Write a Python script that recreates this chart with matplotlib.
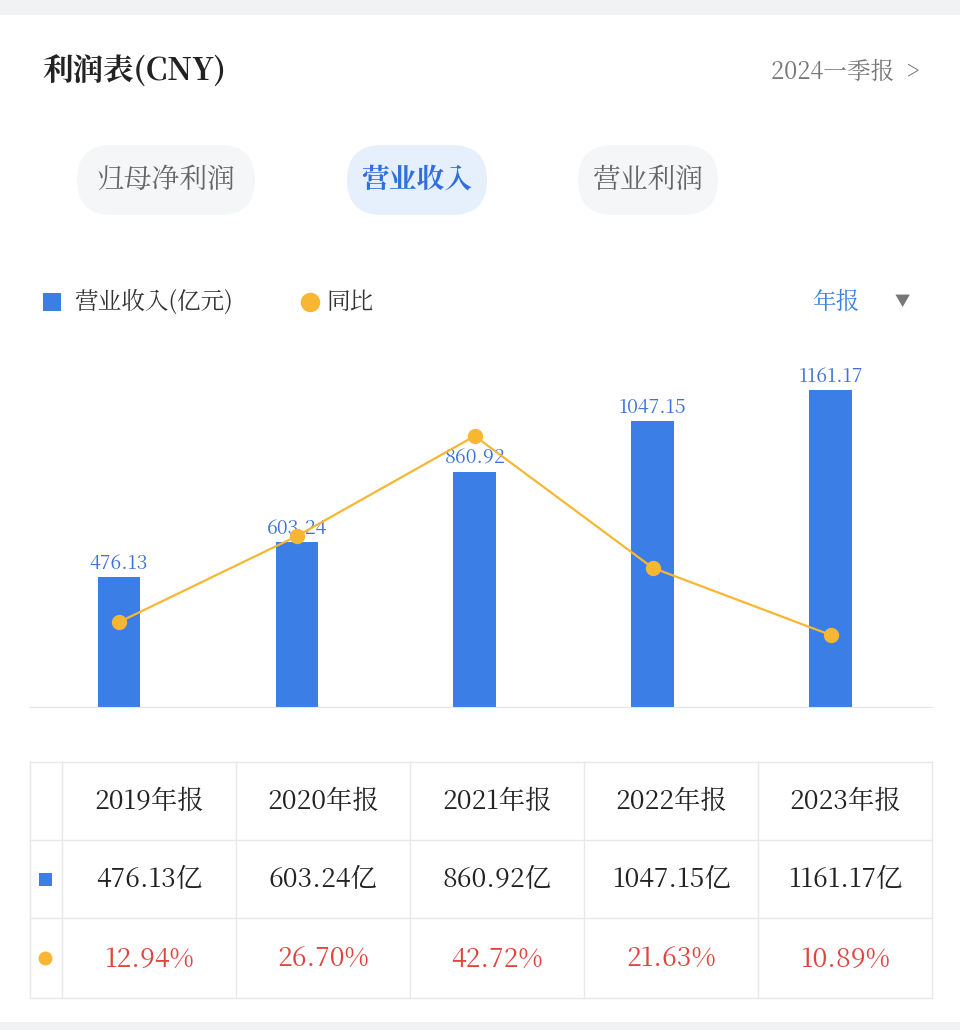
import matplotlib
matplotlib.use("Agg")
import matplotlib.pyplot as plt
from matplotlib import font_manager as fm
from matplotlib.patches import FancyBboxPatch, Rectangle

cjk = [f.name for f in fm.fontManager.ttflist if 'CJK' in f.name]
pref = [n for n in cjk if n.endswith('SC')] or cjk
plt.rcParams['font.family'] = ([pref[0]] if pref else []) + ['DejaVu Sans']

years = ["2019年报", "2020年报", "2021年报", "2022年报", "2023年报"]
revenue = [476.13, 603.24, 860.92, 1047.15, 1161.17]
yoy = [12.94, 26.70, 42.72, 21.63, 10.89]

W, H = 960, 1030
fig = plt.figure(figsize=(9.6, 10.3), dpi=100)
fig.patch.set_facecolor('white')

# overlay axes in pixel coordinates for the page decoration
ov = fig.add_axes([0, 0, 1, 1])
ov.set_xlim(0, W); ov.set_ylim(H, 0); ov.axis('off')

BLUE = '#3b7ee6'
ORANGE = '#f7b733'
RED = '#e0443c'
GRID = '#e6e8eb'

ov.add_patch(Rectangle((0, 0), W, 15, color='#f1f2f4', lw=0))
ov.add_patch(Rectangle((0, 1022), W, 8, color='#f1f2f4', lw=0))

ov.text(42, 72, "利润表(CNY)", fontsize=22, fontweight='bold', va='center', color='#222222')
ov.text(920, 72, "2024一季报  >", fontsize=17, ha='right', va='center', color='#777777')

tabs = [("归母净利润", 42, 290, '#f5f6f8', '#666666', 'normal'),
        ("营业收入", 312, 522, '#e6f0fd', '#2f6fde', 'bold'),
        ("营业利润", 543, 753, '#f5f6f8', '#666666', 'normal')]
for t, x0, x1, bg, fc, fw in tabs:
    ov.add_patch(FancyBboxPatch((x0 + 35, 145), x1 - x0 - 70, 70,
                                boxstyle="round,pad=0,rounding_size=35", fc=bg, ec='none'))
    ov.text((x0 + x1) / 2, 180, t, fontsize=20, ha='center', va='center', color=fc, fontweight=fw)

ov.add_patch(Rectangle((43, 293), 18, 18, color=BLUE, lw=0))
ov.text(74, 302, "营业收入(亿元)", fontsize=17, va='center', color='#333333')
ov.plot([310], [302], marker='o', markersize=13, color=ORANGE)
ov.text(326, 302, "同比", fontsize=17, va='center', color='#333333')
ov.text(812, 302, "年报", fontsize=17, va='center', color='#3b7ee6')
ov.text(902, 302, "▼", fontsize=11, va='center', ha='center', color='#777777')

# table
xs_t = [30, 62, 236, 410, 584, 758, 932]
ys_t = [762, 840, 918, 998]
for y in ys_t:
    ov.plot([30, 932], [y, y], color=GRID, lw=1)
for x in xs_t:
    ov.plot([x, x], [762, 998], color=GRID, lw=1)
for i in range(5):
    cx = (xs_t[i + 1] + xs_t[i + 2]) / 2
    ov.text(cx, 802, years[i], fontsize=19, ha='center', va='center', color='#222222')
    ov.text(cx, 880, f"{revenue[i]:.2f}亿", fontsize=19, ha='center', va='center', color='#222222')
    ov.text(cx, 960, f"{yoy[i]:.2f}%", fontsize=19, ha='center', va='center', color=RED)
ov.add_patch(Rectangle((39, 873), 13, 13, color=BLUE, lw=0))
ov.plot([45], [958], marker='o', markersize=9, color=ORANGE)

# chart
top, bot = 340, 707
ax = fig.add_axes([30 / W, 1 - bot / H, (932 - 30) / W, (bot - top) / H])
ax.set_xlim(-0.5, 4.5 + 0.07)
ax.set_ylim(0, (bot - top) / 0.273)
xs = range(len(years))
ax.bar(xs, revenue, width=0.24, color=BLUE)
for x, v in zip(xs, revenue):
    ax.text(x, v + 12, f"{v:.2f}", ha='center', va='bottom', fontsize=14, color='#3b72d9')
for s in ['top', 'right', 'left']:
    ax.spines[s].set_visible(False)
ax.spines['bottom'].set_color('#e3e5e8')
ax.set_xticks([]); ax.set_yticks([])
ax.patch.set_alpha(0)
ax2 = ax.twinx()
b = -(bot - 703) / 6.25
ax2.set_ylim(b, b + (bot - top) / 6.25)
ax2.plot(xs, yoy, color=ORANGE, lw=1.6, marker='o', markersize=10, zorder=5)
ax2.axis('off')

fig.savefig("out.png", dpi=100)
